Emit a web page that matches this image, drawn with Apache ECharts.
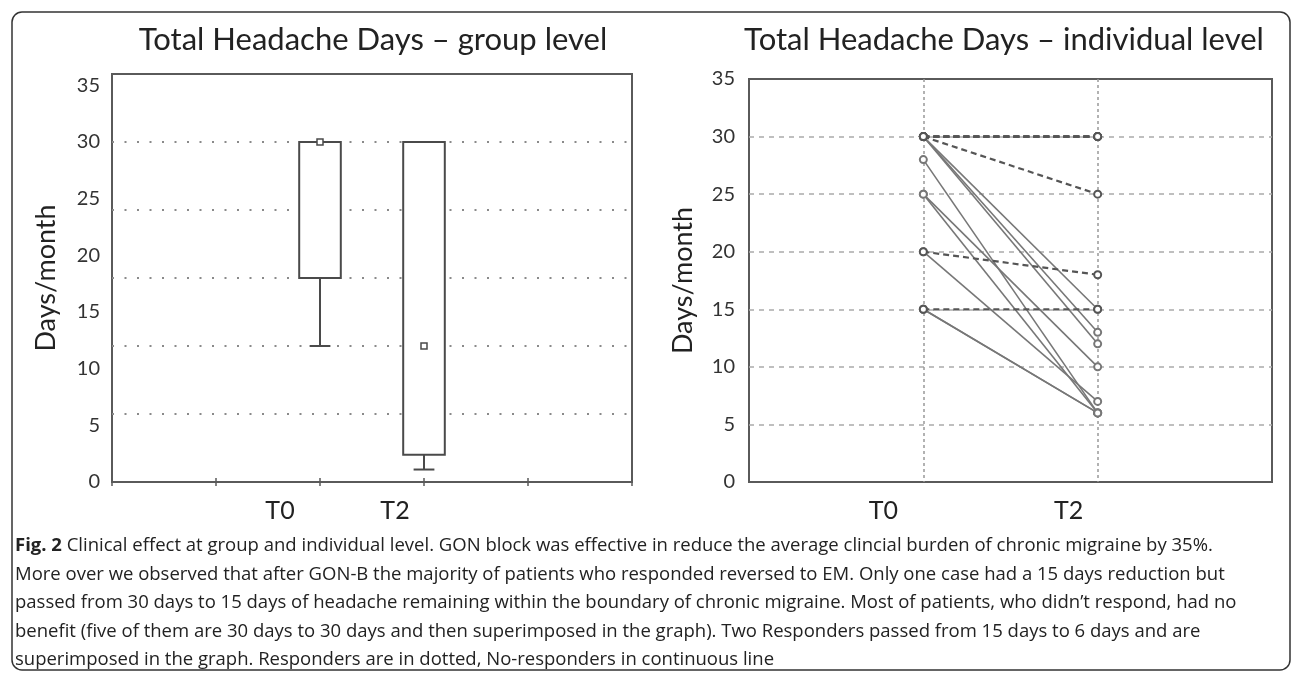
<!DOCTYPE html>
<html>
<head>
<meta charset="utf-8">
<script src="https://cdn.jsdelivr.net/npm/echarts@6/dist/echarts.min.js"></script>
<style>
  html, body { margin: 0; padding: 0; background: #fff; }
  #chart { width: 1296px; height: 678px; }
</style>
</head>
<body>
<div id="chart"></div>
<script>
// Time points shown on both panels
const timepoints = ['T0', 'T2'];

// Group level: box summary per time point
const boxMin    = [12, 1.1];
const boxQ1     = [18, 2.4];
const boxMedian = [30, 12];
const boxQ3     = [30, 30];
const boxMax    = [30, 30];

// Individual level: headache days per patient at T0 and T2
const respondersT0    = [30, 30, 30, 30, 30, 30, 20, 15];
const respondersT2    = [30, 30, 30, 30, 30, 25, 18, 15];
const nonRespondersT0 = [30, 30, 30, 28, 25, 25, 20, 15, 15];
const nonRespondersT2 = [15, 13, 12, 6, 10, 6, 7, 6, 6];

// Titles and caption
const leftTitle  = 'Total Headache Days \u2013 group level';
const rightTitle = 'Total Headache Days \u2013 individual level';
const yName = 'Days/month';
const captionLines = [
  '{b|Fig. 2} Clinical effect at group and individual level. GON block was effective in reduce the average clincial burden of chronic migraine by 35%.',
  'More over we observed that after GON-B the majority of patients who responded reversed to EM. Only one case had a 15 days reduction but',
  'passed from 30 days to 15 days of headache remaining within the boundary of chronic migraine. Most of patients, who didn\u2019t respond, had no',
  'benefit (five of them are 30 days to 30 days and then superimposed in the graph). Two Responders passed from 15 days to 6 days and are',
  'superimposed in the graph. Responders are in dotted, No-responders in continuous line'
];

const FONT = 'Lato, "Open Sans", sans-serif';
const CAPTION_FONT = '"Open Sans", sans-serif';
const INK = '#222';
const FRAME = '#5a5a5a';

// x label for a time point, nudged left of its position
function timeLabel(idx) {
  if (idx < 0 || idx >= timepoints.length) return '';
  return '{t' + idx + '|' + timepoints[idx] + '}';
}
const timeRich = {
  t0: { fontSize: 25, fontFamily: FONT, color: INK, padding: [0, 80, 0, 0] },
  t1: { fontSize: 25, fontFamily: FONT, color: INK, padding: [0, 58, 0, 0] }
};

const yLabelStyle = { fontSize: 20, fontFamily: FONT, color: '#333' };
const yNameStyle = { fontSize: 27, fontFamily: FONT, color: INK };

// Box-and-whisker glyph built from the axis scales
function renderBox(params, api) {
  const x = api.value(0);
  const lo = api.coord([x, api.value(1)]);
  const q1 = api.coord([x, api.value(2)]);
  const med = api.coord([x, api.value(3)]);
  const q3 = api.coord([x, api.value(4)]);
  const hi = api.coord([x, api.value(5)]);
  const half = api.size([0.4, 0])[0] / 2;
  const cap = api.size([0.2, 0])[0] / 2;
  const stroke = { stroke: '#4a4a4a', lineWidth: 2, fill: null };
  const children = [{
    type: 'rect',
    shape: { x: q3[0] - half, y: q3[1], width: half * 2, height: q1[1] - q3[1] },
    style: { fill: '#fff', stroke: '#4a4a4a', lineWidth: 2 }
  }];
  if (lo[1] - q1[1] > 1) {
    children.push({ type: 'line', shape: { x1: q1[0], y1: q1[1], x2: lo[0], y2: lo[1] }, style: stroke });
    children.push({ type: 'line', shape: { x1: lo[0] - cap, y1: lo[1], x2: lo[0] + cap, y2: lo[1] }, style: stroke });
  }
  if (q3[1] - hi[1] > 1) {
    children.push({ type: 'line', shape: { x1: q3[0], y1: q3[1], x2: hi[0], y2: hi[1] }, style: stroke });
    children.push({ type: 'line', shape: { x1: hi[0] - cap, y1: hi[1], x2: hi[0] + cap, y2: hi[1] }, style: stroke });
  }
  children.push({
    type: 'rect',
    shape: { x: med[0] - 3, y: med[1] - 3, width: 6, height: 6 },
    style: { fill: '#fff', stroke: '#4a4a4a', lineWidth: 1.5 }
  });
  return { type: 'group', children };
}

const boxData = timepoints.map((t, i) => [i + 2, boxMin[i], boxQ1[i], boxMedian[i], boxQ3[i], boxMax[i]]);

// One line per patient on the right panel
function patientSeries(t0, t2, style) {
  return t0.map((v, i) => ({
    type: 'line',
    xAxisIndex: 2,
    yAxisIndex: 2,
    silent: true,
    animation: false,
    data: timepoints.map((t, k) => [k + 1, k === 0 ? v : t2[i]]),
    symbol: 'emptyCircle',
    symbolSize: 7,
    lineStyle: style.line,
    itemStyle: style.item,
    z: style.z
  }));
}
const dashedStyle = {
  line: { type: [6, 4], width: 2.2, color: '#555' },
  item: { color: '#555', borderColor: '#555', borderWidth: 1.6 },
  z: 4
};
const solidStyle = {
  line: { type: 'solid', width: 1.6, color: '#777' },
  item: { color: '#777', borderColor: '#777', borderWidth: 1.4 },
  z: 3
};

const chart = echarts.init(document.getElementById('chart'), null, { renderer: 'canvas' });

chart.setOption({
  animation: false,
  backgroundColor: '#fff',
  title: [
    { text: leftTitle, left: 368, top: 19, textAlign: 'center',
      textStyle: { fontSize: 31, fontWeight: 'normal', fontFamily: FONT, color: INK } },
    { text: rightTitle, left: 999, top: 19, textAlign: 'center',
      textStyle: { fontSize: 31, fontWeight: 'normal', fontFamily: FONT, color: INK } }
  ],
  grid: [
    { left: 112, top: 74, width: 520, height: 408, show: true, borderColor: FRAME, borderWidth: 2, backgroundColor: 'transparent' },
    { left: 749, top: 79, width: 523, height: 403, show: true, borderColor: FRAME, borderWidth: 2, backgroundColor: 'transparent' }
  ],
  xAxis: [
    { type: 'value', gridIndex: 0, min: 0, max: 5, interval: 1,
      axisLine: { show: false },
      axisTick: { show: true, inside: true, length: 4, lineStyle: { color: FRAME, width: 1.5 } },
      splitLine: { show: false },
      axisLabel: { margin: 16, formatter: v => timeLabel(v - 2), rich: timeRich } },
    { type: 'value', gridIndex: 0, position: 'top', min: 0, max: 5, interval: 1,
      axisLine: { show: false },
      axisTick: { show: true, inside: true, length: 4, lineStyle: { color: FRAME, width: 1.5 } },
      splitLine: { show: false },
      axisLabel: { show: false } },
    { type: 'value', gridIndex: 1, min: 0, max: 3, interval: 1,
      axisLine: { show: false },
      axisTick: { show: false },
      splitLine: { show: true, showMinLine: false, showMaxLine: false,
        lineStyle: { type: [3, 3], color: '#999', width: 1.5 } },
      axisLabel: { margin: 16, formatter: v => timeLabel(v - 1), rich: timeRich } }
  ],
  yAxis: [
    { type: 'value', gridIndex: 0, min: 0, max: 36, interval: 5,
      name: yName, nameLocation: 'middle', nameGap: 52, nameTextStyle: yNameStyle,
      axisLine: { show: false }, axisTick: { show: false },
      splitLine: { show: false },
      axisLabel: Object.assign({ margin: 12, formatter: v => (v % 5 === 0 ? String(v) : '') }, yLabelStyle) },
    { type: 'value', gridIndex: 0, min: 0, max: 36, interval: 6,
      axisLine: { show: false }, axisTick: { show: false }, axisLabel: { show: false },
      splitLine: { show: true, showMinLine: false, showMaxLine: false,
        lineStyle: { type: [2, 10.5], color: '#8a8a8a', width: 2 } } },
    { type: 'value', gridIndex: 1, min: 0, max: 35, interval: 5,
      name: yName, nameLocation: 'middle', nameGap: 52, nameTextStyle: yNameStyle,
      axisLine: { show: false }, axisTick: { show: false },
      splitLine: { show: true, showMinLine: false, showMaxLine: false,
        lineStyle: { type: [5, 5], color: '#aaa', width: 1.5 } },
      axisLabel: Object.assign({ margin: 14 }, yLabelStyle) }
  ],
  series: [
    { type: 'custom', xAxisIndex: 0, yAxisIndex: 0, renderItem: renderBox, data: boxData, silent: true, z: 3 },
    ...patientSeries(nonRespondersT0, nonRespondersT2, solidStyle),
    ...patientSeries(respondersT0, respondersT2, dashedStyle)
  ],
  graphic: [
    { type: 'rect', left: 9.5, top: 9.5, silent: true,
      shape: { width: 1278, height: 658, r: 10 },
      style: { fill: 'none', stroke: '#333', lineWidth: 1.5 } },
    { type: 'text', left: 15, top: 532, silent: true,
      style: {
        text: captionLines.join('\n'),
        fontSize: 18.5, fontFamily: CAPTION_FONT, fill: INK, lineHeight: 28.4,
        rich: { b: { fontWeight: 'bold', fontSize: 18.5, fontFamily: CAPTION_FONT, fill: INK, lineHeight: 28.4 } }
      } }
  ]
});
</script>
</body>
</html>
